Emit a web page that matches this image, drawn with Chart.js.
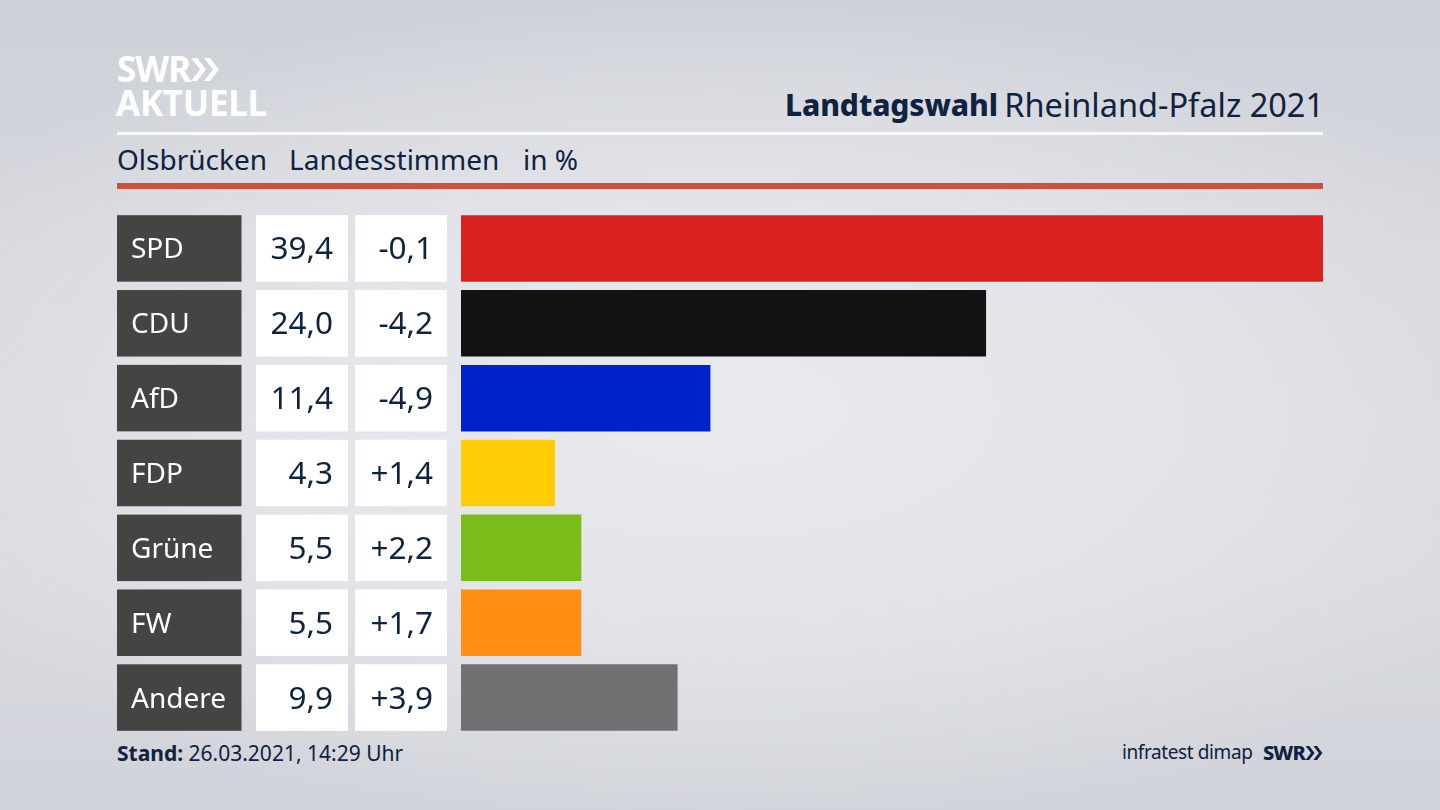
<!DOCTYPE html>
<html lang="de"><head><meta charset="utf-8">
<script src="https://cdn.jsdelivr.net/npm/chart.js@4"></script>
<style>
html,body{margin:0;padding:0;width:1440px;height:810px;overflow:hidden}
body{position:relative;font-family:"Noto Sans",sans-serif;color:#0f2240;
background:radial-gradient(ellipse 900px 420px at 720px 410px,#e9eaef 0%,#e3e5ea 45%,rgba(214,216,222,0) 100%),linear-gradient(180deg,#cdd0d7 0%,#d6d8de 30%,#d9dbe1 70%,#d0d3d9 100%)}
canvas{position:absolute;left:0;top:0}
.t{position:absolute;white-space:nowrap;line-height:1}
.line{position:absolute;left:117px;width:1206px}
svg{position:absolute}
</style></head><body>
<div class="t" style="left:117px;top:51px;font-size:35px;font-weight:700;color:#fff;letter-spacing:-1px">SWR</div>
<svg style="left:190px;top:57px" width="30" height="25" viewBox="0 0 30 25"><path d="M1 1h6l9 11.5-9 11.5h-6l9-11.5zM14 1h6l9 11.5-9 11.5h-6l9-11.5z" fill="#fff"/></svg>
<div class="t" style="left:116px;top:85px;font-size:35px;font-weight:700;color:#fff;letter-spacing:-.3px">AKTUELL</div>
<div class="t" style="left:785px;top:90px;font-size:30px;font-weight:800;letter-spacing:-.1px">Landtagswahl</div>
<div class="t" style="right:116px;top:89px;font-size:32.5px">Rheinland-Pfalz 2021</div>
<div class="line" style="top:132px;height:3px;background:#fff"></div>
<div class="t" style="left:117px;top:145px;font-size:28px">Olsbrücken</div>
<div class="t" style="left:289px;top:145px;font-size:28px">Landesstimmen</div>
<div class="t" style="left:523px;top:145px;font-size:28px">in %</div>
<div class="line" style="top:183px;height:6px;background:#cc5139"></div>
<div class="t" style="left:117px;top:743px;font-size:21px"><b>Stand:</b> 26.03.2021, 14:29 Uhr</div>
<div class="t" style="left:1122px;top:743px;font-size:19px;letter-spacing:-.4px">infratest dimap</div>
<div class="t" style="left:1263px;top:743px;font-size:20px;font-weight:800;letter-spacing:-.9px">SWR</div>
<svg style="left:1305px;top:745px" width="18" height="16" viewBox="0 0 30 25"><path d="M1 1h6l9 11.5-9 11.5h-6l9-11.5zM14 1h6l9 11.5-9 11.5h-6l9-11.5z" fill="#0f2240"/></svg>
<canvas id="c" width="1440" height="810"></canvas>
<script>
const parties=["SPD","CDU","AfD","FDP","Grüne","FW","Andere"];
const shares=[39.4,24.0,11.4,4.3,5.5,5.5,9.9];
const diffs=["-0,1","-4,2","-4,9","+1,4","+2,2","+1,7","+3,9"];
const colors=["#d8201f","#121212","#0022c8","#ffcc06","#7abd1a","#ff8f14","#707173"];
const axisMax=39.4;
const fmt=v=>v.toFixed(1).replace(".",",");
const cells={id:"cells",
 afterLayout(chart){
  const s=chart.scales.y;
  if(s._shifted)return; s._shifted=true;
  const o=s.drawLabels;
  s.drawLabels=function(a){chart.ctx.save();chart.ctx.translate(0,2);o.call(s,a);chart.ctx.restore()};
 },
 beforeDraw(chart){
  const c=chart.ctx,y=chart.scales.y,h=66.5;
  c.save();
  parties.forEach((p,i)=>{
    const m=y.getPixelForValue(i),t=m-h/2;
    c.fillStyle="#444442";c.fillRect(117,t,124.5,h);
    c.fillStyle="#fff";c.fillRect(256,t,92,h);c.fillRect(355,t,92,h);
    c.fillStyle="#0f2240";c.font='31.5px "Noto Sans"';c.textAlign="right";c.textBaseline="middle";
    c.fillText(fmt(shares[i]),333,m+2);
    c.fillText(diffs[i],433,m+2);
  });
  c.restore();
}};
new Chart(document.getElementById("c"),{
  type:"bar",plugins:[cells],
  data:{labels:parties,datasets:[{data:shares,backgroundColor:colors,borderWidth:0,barPercentage:.888,categoryPercentage:1}]},
  options:{indexAxis:"y",responsive:false,animation:false,devicePixelRatio:1,
    layout:{padding:{left:131,right:117,top:211,bottom:75}},
    plugins:{legend:{display:false},tooltip:{enabled:false},title:{display:false}},
    scales:{
      x:{display:false,min:0,max:axisMax},
      y:{grid:{display:false},border:{display:false},
        afterFit(s){s.width=330},
        ticks:{crossAlign:"far",color:"#fff",font:{family:"Noto Sans",size:28},padding:0}}
    }}
});
</script></body></html>
